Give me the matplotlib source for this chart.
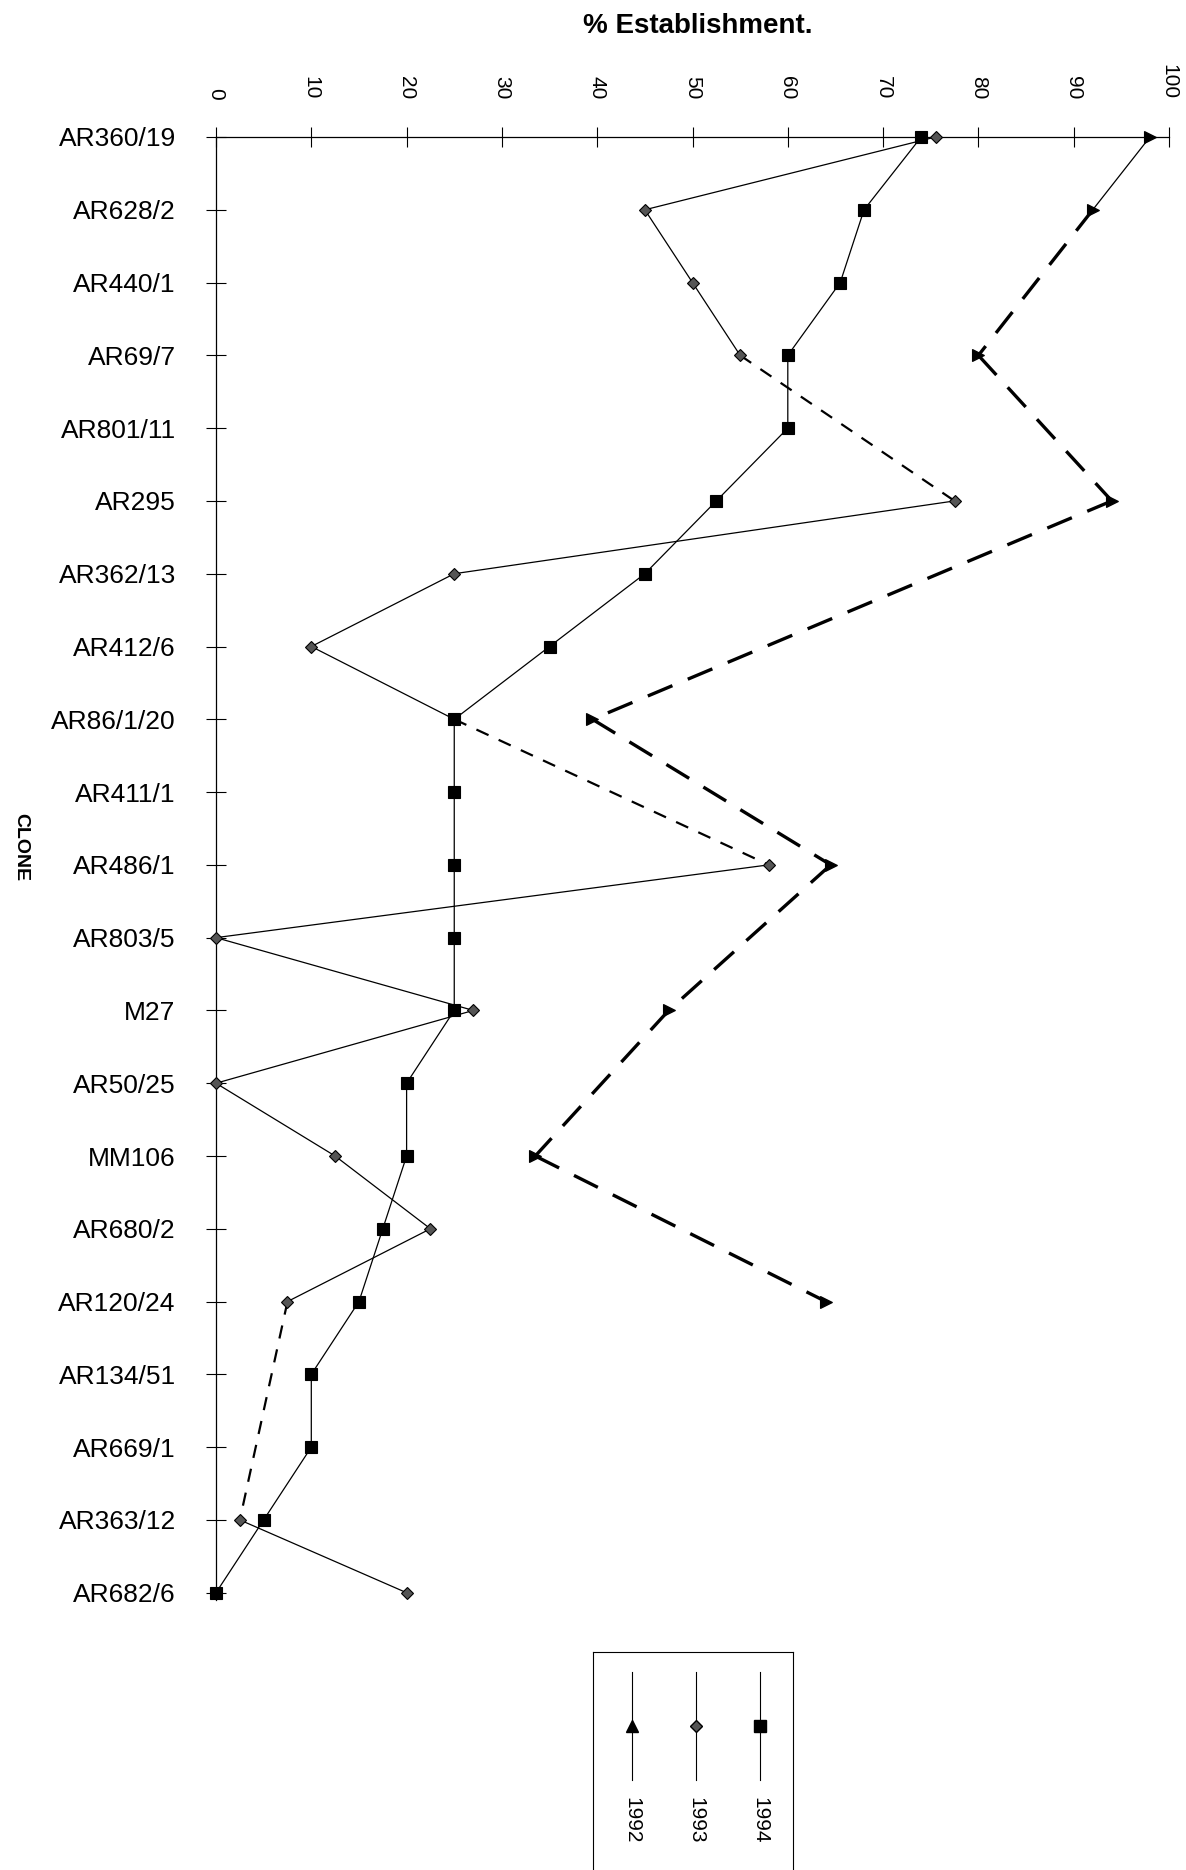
import numpy as np
import matplotlib.pyplot as plt

plt.rcParams['font.family'] = ['Liberation Sans', 'DejaVu Sans']

# clones top to bottom, values in % establishment (nan = not recorded)
clones = ['AR360/19', 'AR628/2', 'AR440/1', 'AR69/7', 'AR801/11', 'AR295',
          'AR362/13', 'AR412/6', 'AR86/1/20', 'AR411/1', 'AR486/1', 'AR803/5',
          'M27', 'AR50/25', 'MM106', 'AR680/2', 'AR120/24', 'AR134/51',
          'AR669/1', 'AR363/12', 'AR682/6']
nan = np.nan
est_1994 = [74, 68, 65.5, 60, 60, 52.5, 45, 35, 25, 25, 25, 25, 25, 20, 20,
            17.5, 15, 10, 10, 5, 0]
est_1993 = [75.5, 45, 50, 55, nan, 77.5, 25, 10, 25, nan, 58, 0, 27, 0, 12.5,
            22.5, 7.5, nan, nan, 2.5, 20]
est_1992 = [98, 92, nan, 80, nan, 94, nan, nan, 39.5, nan, 64.5, nan, 47.5,
            nan, 33.5, nan, 64, nan, nan, nan, nan]
years = ['1992', '1993', '1994']
x_ticks = list(range(0, 101, 10))


def draw_series(ax, vals, marker, ms, mfc, dash_lw, dashes, z):
    v = np.array(vals, dtype=float)
    rows = np.arange(len(v))
    # consecutive values joined with a thin solid line
    ax.plot(v, rows, color='black', lw=0.9, marker=marker, ms=ms,
            mfc=mfc, mec='black', mew=0.8, zorder=z, clip_on=False)
    # gaps in the record bridged with a dashed line
    idx = np.flatnonzero(~np.isnan(v))
    for a, b in zip(idx[:-1], idx[1:]):
        if b - a > 1:
            ax.plot([v[a], v[b]], [a, b], color='black', lw=dash_lw,
                    dashes=dashes, zorder=z - 1, clip_on=False)


W, H = 1186, 1870
fig = plt.figure(figsize=(W / 100, H / 100), dpi=100)
ax = fig.add_axes([216 / W, 1 - 1600 / H, (1169 - 216) / W, (1600 - 137) / H])

draw_series(ax, est_1992, '>', 8, 'black', 2.4, (8, 5), 3)
draw_series(ax, est_1993, 'D', 6.5, '#555555', 1.6, (6, 5), 4)
draw_series(ax, est_1994, 's', 8.5, 'black', 1.6, (6, 5), 6)

ax.set_xlim(0, 100)
ax.set_ylim(len(clones) - 0.9, 0)
ax.xaxis.tick_top()
ax.set_xticks(x_ticks)
ax.set_xticklabels([str(t) for t in x_ticks], rotation=-90, fontsize=15)
ax.set_yticks(np.arange(len(clones)))
ax.set_yticklabels(clones, fontsize=19)
ax.tick_params(axis='x', direction='inout', length=14, width=0.8, pad=20)
ax.tick_params(axis='y', direction='inout', length=14, width=0.8, pad=22)
for side in ['right', 'bottom']:
    ax.spines[side].set_visible(False)
for side in ['top', 'left']:
    ax.spines[side].set_linewidth(0.9)

fig.text(698 / W, 1 - 26 / H, '% Establishment.', ha='center', va='center',
         fontsize=20, fontweight='bold')
fig.text(21 / W, 1 - 847 / H, 'CLONE', ha='center', va='center',
         rotation=-90, fontsize=14, fontweight='bold')

# legend drawn sideways like the rest of the page
lax = fig.add_axes([593 / W, 0, 200 / W, 218 / H])
lax.set_xlim(0, 200)
lax.set_ylim(218, 0)
lax.set_xticks([])
lax.set_yticks([])
lax.spines['bottom'].set_visible(False)
leg_markers = ['^', 'D', 's']
leg_fill = ['black', '#555555', 'black']
leg_ms = [9, 6.5, 9]
for i, (yr, mk) in enumerate(zip(years, leg_markers)):
    xpos = 39 + i * 64
    lax.plot([xpos, xpos], [20, 128], color='black', lw=0.8)
    lax.plot([xpos], [74], marker=mk, ms=leg_ms[i], mfc=leg_fill[i],
             mec='black', color='black')
    lax.text(xpos, 168, yr, rotation=-90, ha='center', va='center', fontsize=15)

fig.savefig('out.png', dpi=100)
